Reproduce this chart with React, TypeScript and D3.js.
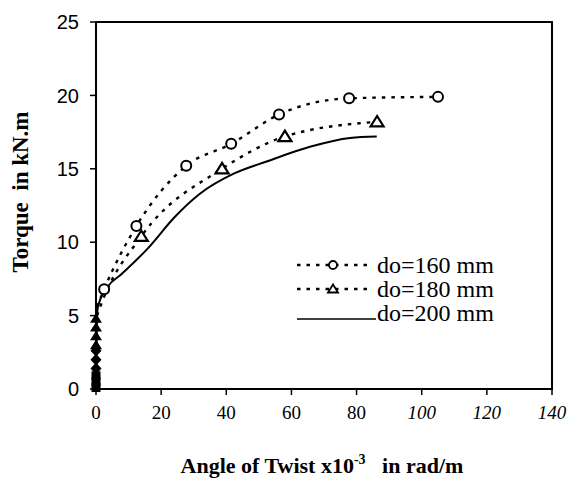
import React from "react";
import * as d3 from "d3";

const xTicks = [0, 20, 40, 60, 80, 100, 120, 140];
const yTicks = [0, 5, 10, 15, 20, 25];

// do=160 mm (circles, dotted)
const s160X = [0.3, 2.5, 12.4, 27.7, 41.5, 56.2, 77.7, 105];
const s160Y = [5.6, 6.8, 11.1, 15.2, 16.7, 18.7, 19.8, 19.9];
const s160Marked = [false, true, true, true, true, true, true, true];

// do=180 mm (triangles, dotted)
const s180X = [0.3, 1.8, 13.9, 38.7, 58, 86.3];
const s180Y = [5.0, 5.9, 10.4, 15.0, 17.2, 18.2];
const s180Marked = [false, false, true, true, true, true];

// do=200 mm (solid)
const s200X = [0, 0.3, 0.6, 3.7, 7.7, 16, 24.1, 31.9, 42.6, 52.4, 65.7, 78, 86.2];
const s200Y = [0, 4.8, 5.6, 7.0, 7.8, 9.6, 11.7, 13.3, 14.7, 15.5, 16.5, 17.1, 17.2];

// near-zero filled markers stacked on the y axis
const zeroShapes = ["tri", "tri", "tri", "tri", "dia", "dia", "dia", "sq", "sq", "sq"];
const zeroY = [4.8, 4.2, 3.6, 3.0, 2.6, 2.0, 1.4, 0.9, 0.5, 0.1];

const legendLabels = ["do=160 mm", "do=180 mm", "do=200 mm"];

const W = 573;
const H = 486;
const x = d3.scaleLinear().domain([0, 140]).range([96, 552]);
const y = d3.scaleLinear().domain([0, 25]).range([389, 22]);

const line = d3
  .line<[number, number]>()
  .x((d) => x(d[0]))
  .y((d) => y(d[1]))
  .curve(d3.curveMonotoneX);

const tri = (cx: number, cy: number, s: number) =>
  `M${cx},${cy - s * 0.9}L${cx + s},${cy + s * 0.7}L${cx - s},${cy + s * 0.7}Z`;

const dotted = "3.5,6";

export default function App() {
  const p160 = s160X.map((v, i) => [v, s160Y[i]] as [number, number]);
  const p180 = s180X.map((v, i) => [v, s180Y[i]] as [number, number]);
  const p200 = s200X.map((v, i) => [v, s200Y[i]] as [number, number]);
  const serif = "'Liberation Serif', 'Times New Roman', serif";
  const sans = "'Liberation Sans', Arial, sans-serif";
  return (
    <svg
      width={W}
      height={H}
      style={{ position: "absolute", left: 0, top: 0, background: "#fff" }}
    >
      <rect x={0} y={0} width={W} height={H} fill="#fff" />
      {/* frame */}
      <rect
        x={x(0)}
        y={y(25)}
        width={x(140) - x(0)}
        height={y(0) - y(25)}
        fill="none"
        stroke="#000"
        strokeWidth={2}
      />
      {/* y ticks */}
      {yTicks.map((t) => (
        <g key={"y" + t}>
          <line x1={x(0) - 6} x2={x(0)} y1={y(t)} y2={y(t)} stroke="#000" strokeWidth={1.5} />
          <text
            x={79}
            y={y(t)}
            dy="0.36em"
            textAnchor="end"
            fontFamily={sans}
            fontSize={20}
          >
            {t}
          </text>
        </g>
      ))}
      {/* x ticks */}
      {xTicks.map((t) => (
        <g key={"x" + t}>
          <line x1={x(t)} x2={x(t)} y1={y(0)} y2={y(0) + 6} stroke="#000" strokeWidth={1.5} />
          <text
            x={x(t)}
            y={419}
            textAnchor="middle"
            fontFamily={serif}
            fontSize={19}
            fontStyle={t >= 100 ? "italic" : "normal"}
          >
            {t}
          </text>
        </g>
      ))}
      {/* axis titles */}
      <text
        x={322}
        y={473}
        textAnchor="middle"
        fontFamily={serif}
        fontWeight="bold"
        fontSize={22}
      >
        Angle of Twist x10
        <tspan dy={-9} fontSize={14}>-3</tspan>
        <tspan dy={9}>{"\u00a0\u00a0\u00a0in rad/m"}</tspan>
      </text>
      <text
        transform={`translate(28,192) rotate(-90)`}
        textAnchor="middle"
        fontFamily={serif}
        fontWeight="bold"
        fontSize={23}
      >
        {"Torque\u00a0\u00a0in kN.m"}
      </text>
      {/* series lines */}
      <path d={line(p200) || ""} fill="none" stroke="#000" strokeWidth={2} />
      <path
        d={line(p180) || ""}
        fill="none"
        stroke="#000"
        strokeWidth={2.4}
        strokeDasharray={dotted}
      />
      <path
        d={line(p160) || ""}
        fill="none"
        stroke="#000"
        strokeWidth={2.4}
        strokeDasharray={dotted}
      />
      {/* markers */}
      {p160.map((p, i) =>
        s160Marked[i] ? (
          <circle
            key={"c" + i}
            cx={x(p[0])}
            cy={y(p[1])}
            r={5}
            fill="#fff"
            stroke="#000"
            strokeWidth={2}
          />
        ) : null
      )}
      {p180.map((p, i) =>
        s180Marked[i] ? (
          <path
            key={"t" + i}
            d={tri(x(p[0]), y(p[1]), 6.5)}
            fill="#fff"
            stroke="#000"
            strokeWidth={2.2}
          />
        ) : null
      )}
      {zeroY.map((v, i) => {
        const cx = x(0);
        const cy = y(v);
        const sh = zeroShapes[i];
        if (sh === "tri") return <path key={"z" + i} d={tri(cx, cy, 6)} fill="#000" />;
        if (sh === "dia")
          return (
            <path
              key={"z" + i}
              d={`M${cx},${cy - 6}L${cx + 5.5},${cy}L${cx},${cy + 6}L${cx - 5.5},${cy}Z`}
              fill="#000"
            />
          );
        return <rect key={"z" + i} x={cx - 4.5} y={cy - 4.5} width={9} height={9} fill="#000" />;
      })}
      {/* legend */}
      <line x1={297} x2={373} y1={265} y2={265} stroke="#000" strokeWidth={2.4} strokeDasharray={dotted} />
      <circle cx={333} cy={265} r={4} fill="#fff" stroke="#000" strokeWidth={1.8} />
      <line x1={297} x2={373} y1={289} y2={289} stroke="#000" strokeWidth={2.4} strokeDasharray={dotted} />
      <path d={tri(333, 289, 5)} fill="#fff" stroke="#000" strokeWidth={1.8} />
      <line x1={297} x2={376} y1={319} y2={319} stroke="#000" strokeWidth={1.6} />
      {legendLabels.map((l, i) => (
        <text
          key={l}
          x={377}
          y={[273, 297, 321][i]}
          fontFamily={serif}
          fontSize={24}
        >
          {l}
        </text>
      ))}
    </svg>
  );
}
